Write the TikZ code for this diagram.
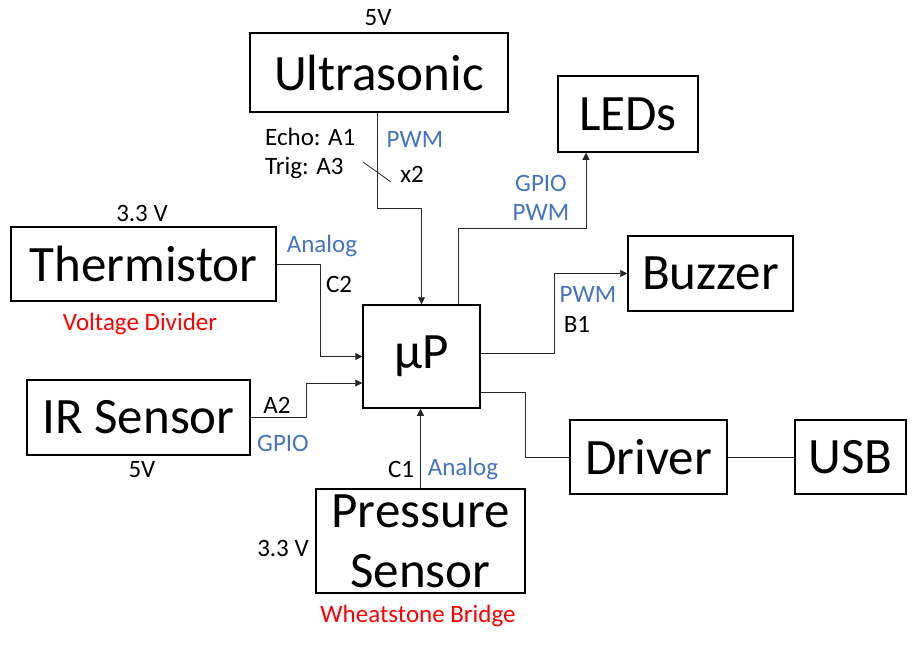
\documentclass[tikz,border=0pt]{standalone}
\usepackage{fontspec}
\setmainfont{Carlito}
\usetikzlibrary{arrows.meta}
\definecolor{sigblue}{RGB}{68,114,196}
\begin{document}
\begin{tikzpicture}[x=1pt, y=-1pt,
  block/.style={draw, line width=1.5pt, inner sep=0pt, align=center, font=\fontsize{51}{60}\selectfont},
  wire/.style={line width=0.8pt, black!85},
  arr/.style={wire, -{Triangle[length=7pt, width=7pt]}},
  lbl/.style={inner sep=0pt, font=\fontsize{25}{30}\selectfont},
  sig/.style={lbl, text=sigblue},
  note/.style={lbl, text=red}]
\useasboundingbox (0,0) rectangle (918,649);
\node[block, minimum width=258pt, minimum height=79pt] (ultra) at (379,72.5) {Ultrasonic};
\node[block, minimum width=140pt, minimum height=76pt] (leds) at (628,114) {LEDs};
\node[block, minimum width=265pt, minimum height=74pt] (therm) at (143.5,264) {Thermistor};
\node[block, minimum width=165pt, minimum height=75pt] (buzzer) at (710.5,273.5) {Buzzer};
\node[block, minimum width=117pt, minimum height=103pt] (up) at (421.5,356.5) {µP};
\node[block, minimum width=223pt, minimum height=75pt] (ir) at (138.5,417.5) {IR Sensor};
\node[block, minimum width=157pt, minimum height=74pt] (driver) at (648.5,457) {Driver};
\node[block, minimum width=111pt, minimum height=74pt] (usb) at (850.5,457) {USB};
\node[block, minimum width=209pt, minimum height=104pt] (press) at (420.5,541) {Pressure\\Sensor};
\draw[arr] ([xshift=-2pt]ultra.south) -- ++(0,96) -| (up.north);
\draw[wire] (363,162) -- (391,182);
\draw[arr] ([xshift=37pt]up.north) -- ++(0,-76) -| ([xshift=-42pt]leds.south);
\draw[arr] ([yshift=3.5pt]up.east) -- ++(74,0) |- (buzzer.west);
\draw[wire] ([yshift=-35.5pt]up.east) -- ++(45,0) |- (driver.west);
\draw[wire] (driver.east) -- (usb.west);
\draw[arr] (therm.east) -- ++(44,0) |- (up.west);
\draw[arr] (ir.east) -- ++(56,0) |- ([yshift=-26.5pt]up.west);
\draw[arr] (press.north) -- (press.north |- up.south);
\node[lbl] (ultrapwr) at (378,18) {5V};
\node[lbl, anchor=west] (echo) at (265,137) {Echo: A1};
\node[lbl, anchor=west] (trig) at (265,168) {Trig: A3};
\node[sig] (ultrasig) at (415,139) {PWM};
\node[lbl] (ultrax) at (412,174) {x2};
\node[sig] (ledsig1) at (541,183) {GPIO};
\node[sig] (ledsig2) at (541,212) {PWM};
\node[lbl] (thermpwr) at (142,213) {3.3 V};
\node[sig] (thermsig) at (322,246) {Analog};
\node[lbl] (thermpin) at (339,284) {C2};
\node[note] (thermnote) at (140,324) {Voltage Divider};
\node[sig] (buzzsig) at (588,294) {PWM};
\node[lbl] (buzzpin) at (577,324) {B1};
\node[lbl] (irpin) at (277,405) {A2};
\node[sig] (irsig) at (283,443) {GPIO};
\node[lbl] (irpwr) at (142,470) {5V};
\node[lbl] (presspin) at (401,469) {C1};
\node[sig] (presssig) at (463,469) {Analog};
\node[lbl] (presspwr) at (283,548) {3.3 V};
\node[note] (pressnote) at (418,616) {Wheatstone Bridge};
\end{tikzpicture}
\end{document}
